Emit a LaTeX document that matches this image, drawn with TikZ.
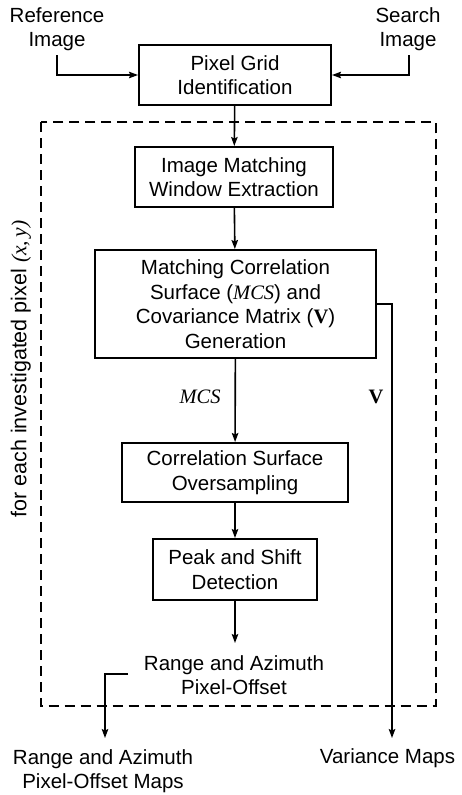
\documentclass[tikz,border=0pt]{standalone}
\usepackage{fontspec}
\setmainfont{Liberation Sans}
\newfontfamily\seriffont{Liberation Serif}
\usetikzlibrary{arrows.meta}

\begin{document}
\begin{tikzpicture}[x=1pt,y=1pt,
  every node/.style={font=\fontsize{20.5}{24.5}\selectfont, inner sep=0pt, align=center},
  blk/.style 2 args={draw, line width=2pt, minimum width=#1pt, minimum height=#2pt},
  conn/.style={line width=1.6pt, -{Stealth[length=9pt,width=6.5pt,inset=1.5pt]}},
  loopbox/.style={line width=1.6pt, dash pattern=on 10pt off 6pt}
]
\useasboundingbox (0,0) rectangle (461,-795);

% loop frame
\draw[loopbox] (40.7,-122) rectangle (436,-706);
\node[rotate=90, font=\fontsize{21.5}{24.5}\selectfont] (loop) at (21,-369)
  {for each investigated pixel {\seriffont\itshape(x,\,y)}};

% inputs
\node (ref) at (57,-29) {Reference\\Image};
\node (srch) at (408,-29) {Search\\Image};

% processing chain
\node[blk={192}{60}] (grid) at (235,-75) {Pixel Grid\\Identification};
\node[blk={198}{60}] (win) at (234,-177) {Image Matching\\Window Extraction};
\node[blk={281}{108}] (mcs) at (235.5,-304) {Matching Correlation\\Surface ({\seriffont\itshape MCS}) and\\Covariance Matrix ({\seriffont\bfseries V})\\Generation};
\node[blk={226}{59}] (ovs) at (235,-472.5) {Correlation Surface\\Oversampling};
\node[blk={164}{61}] (peak) at (235,-569.5) {Peak and Shift\\Detection};
\node (off) at (234,-675) {Range and Azimuth\\Pixel-Offset};

% outputs
\node (offmap) at (103,-771) {Range and Azimuth\\Pixel-Offset Maps};
\node (varmap) at (387.5,-758.6) {Variance Maps};

% edge labels
\node (lmcs) at (200,-397) {\seriffont\itshape MCS};
\node (lv) at (376,-397) {\seriffont\bfseries V};

% bend and end points of the connectors
\coordinate (r1) at (57,-55);
\coordinate (s1) at (409,-55);
\coordinate (pe) at (235,-643);
\coordinate (o1) at (128,-674);
\coordinate (om) at (105,-738);
\coordinate (vx) at (392,-304);
\coordinate (vm) at (392,-738);

\draw[conn] (r1) |- (grid.west);
\draw[conn] (s1) |- (grid.east);
\draw[conn] (grid) -- (win);
\draw[conn] (win) -- (mcs);
\draw[conn] (mcs) -- (ovs);
\draw[conn] (ovs) -- (peak);
\draw[conn] (peak.south) -- (pe);
\draw[conn] (o1) -| (om);
\draw[conn] (mcs.east |- vx) -| (vm);
\end{tikzpicture}
\end{document}
